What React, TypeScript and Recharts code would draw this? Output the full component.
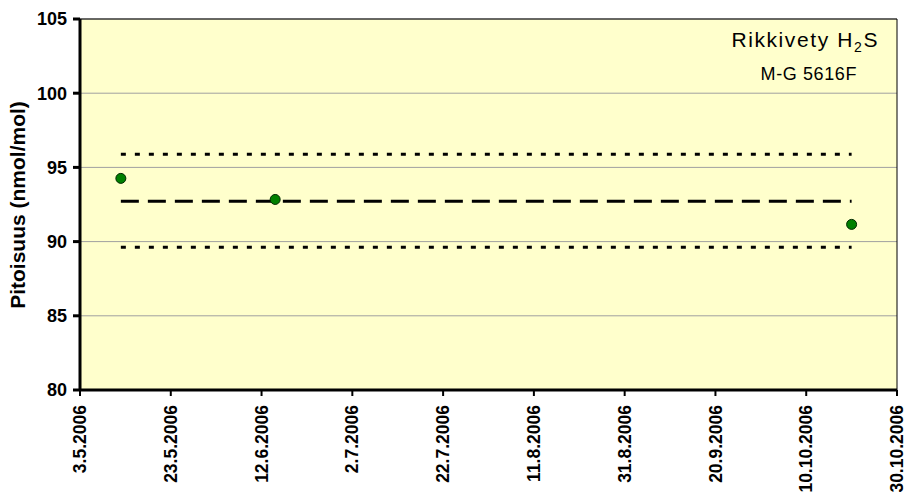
import React from 'react';
import { ComposedChart, Line, Scatter, XAxis, YAxis, CartesianGrid, ReferenceArea } from 'recharts';

const measureDates = ['12.5.2006', '15.6.2006', '20.10.2006'];
const measureValues = [94.26, 92.84, 91.16];

// Mean and limits (drawn from first to last measurement)
const meanValue = 92.72;
const upperLimit = 95.88;
const lowerLimit = 89.62;

const xTickLabels = [
    '3.5.2006', '23.5.2006', '12.6.2006', '2.7.2006', '22.7.2006',
    '11.8.2006', '31.8.2006', '20.9.2006', '10.10.2006', '30.10.2006',
];
const yTicks = [80, 85, 90, 95, 100, 105];

const FONT = '"Liberation Sans", Arial, sans-serif';
const DAY = 86400000;

// "d.m.yyyy" -> day number (UTC)
const toDay = (s: string) => {
    const [d, m, y] = s.split('.').map(Number);
    return Date.UTC(y, m - 1, d) / DAY;
};

const fromDay = (n: number) => {
    const dt = new Date(Math.round(n) * DAY);
    return `${dt.getUTCDate()}.${dt.getUTCMonth() + 1}.${dt.getUTCFullYear()}`;
};

const xTicks = xTickLabels.map(toDay);
const xMin = xTicks[0];
const xMax = xTicks[xTicks.length - 1];

const points = measureDates.map((d, i) => ({ t: toDay(d), v: measureValues[i] }));
const firstDay = points[0].t;
const lastDay = points[points.length - 1].t;

const meanLine = [{ t: firstDay, v: meanValue }, { t: lastDay, v: meanValue }];
const upperLine = [{ t: firstDay, v: upperLimit }, { t: lastDay, v: upperLimit }];
const lowerLine = [{ t: firstDay, v: lowerLimit }, { t: lastDay, v: lowerLimit }];

const DateTick = ({ x, y, payload }: any) => (
    <g transform={`translate(${x},${y})`}>
        <text
            transform="rotate(-90)"
            textAnchor="end"
            dy="0.35em"
            fontFamily={FONT}
            fontWeight="bold"
            fontSize={17.5}
            fill="#000"
        >
            {fromDay(payload.value)}
        </text>
    </g>
);

const Marker = ({ cx, cy }: any) => (
    <circle cx={cx} cy={cy} r={5} fill="#008000" stroke="#002800" strokeWidth={1} />
);

export default function App() {
    return (
        <div style={{ position: 'absolute', left: 0, top: 0, width: 907, height: 495, background: '#fff' }}>
            <ComposedChart
                width={907}
                height={495}
                margin={{ top: 19, right: 10, bottom: 0, left: 0 }}
            >
                <CartesianGrid vertical={false} fill="#FFFFCC" stroke="#A0A0A0" strokeWidth={1} />
                <ReferenceArea x1={xMin} x2={xMax} y1={80} y2={105} fill="none" stroke="#000" strokeWidth={1} />
                <XAxis
                    type="number"
                    dataKey="t"
                    domain={[xMin, xMax]}
                    ticks={xTicks}
                    interval={0}
                    height={105}
                    axisLine={{ stroke: '#000', strokeWidth: 3 }}
                    tickLine={{ stroke: '#000', strokeWidth: 2 }}
                    tickSize={6}
                    tickMargin={9}
                    tick={<DateTick />}
                    allowDataOverflow
                />
                <YAxis
                    type="number"
                    domain={[80, 105]}
                    ticks={yTicks}
                    interval={0}
                    width={80}
                    axisLine={{ stroke: '#000', strokeWidth: 3 }}
                    tickLine={{ stroke: '#000', strokeWidth: 3 }}
                    tickSize={7}
                    tickMargin={6}
                    tick={{ fill: '#000', fontFamily: FONT, fontWeight: 'bold', fontSize: 18 }}
                    allowDataOverflow
                />
                <Line
                    data={upperLine}
                    dataKey="v"
                    stroke="#000"
                    strokeWidth={3}
                    strokeDasharray="5 9"
                    dot={false}
                    activeDot={false}
                    isAnimationActive={false}
                />
                <Line
                    data={lowerLine}
                    dataKey="v"
                    stroke="#000"
                    strokeWidth={3}
                    strokeDasharray="5 9"
                    dot={false}
                    activeDot={false}
                    isAnimationActive={false}
                />
                <Line
                    data={meanLine}
                    dataKey="v"
                    stroke="#000"
                    strokeWidth={3}
                    strokeDasharray="18 9"
                    dot={false}
                    activeDot={false}
                    isAnimationActive={false}
                />
                <Scatter data={points} dataKey="v" shape={<Marker />} isAnimationActive={false} />
            </ComposedChart>
            <svg
                width={907}
                height={495}
                style={{ position: 'absolute', left: 0, top: 0, pointerEvents: 'none' }}
            >
                <text x={879} y={47} textAnchor="end" fontFamily={FONT} fontSize={21} letterSpacing={1.6} fill="#000">
                    Rikkivety H
                    <tspan fontSize={14} dy={5}>2</tspan>
                    <tspan dy={-5}>S</tspan>
                </text>
                <text x={857} y={80} textAnchor="end" fontFamily={FONT} fontSize={18} letterSpacing={0.6} fill="#000">
                    M-G 5616F
                </text>
                <text
                    transform="translate(25,205) rotate(-90)"
                    textAnchor="middle"
                    fontFamily={FONT}
                    fontWeight="bold"
                    fontSize={21}
                    fill="#000"
                >
                    Pitoisuus (nmol/mol)
                </text>
            </svg>
        </div>
    );
}
